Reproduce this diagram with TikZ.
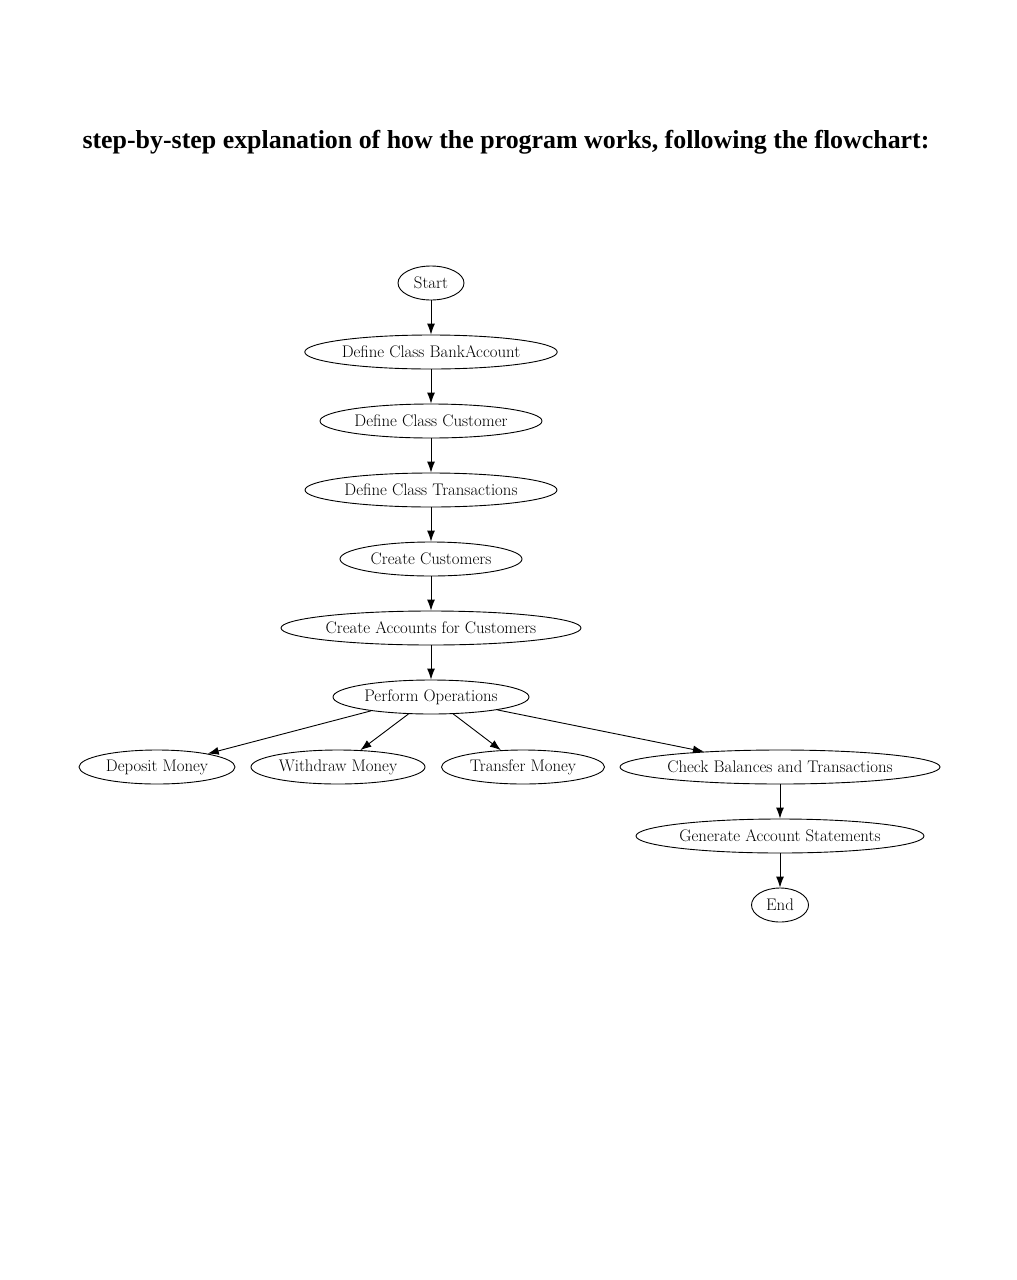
\documentclass[tikz,border=0pt]{standalone}
\usepackage{fontspec}
\newfontfamily\titlefont{Liberation Serif}
\usetikzlibrary{shapes.geometric,arrows.meta}
\begin{document}
\begin{tikzpicture}[x=1pt,y=-1pt,
  ov/.style={draw, ellipse, inner sep=0pt, minimum height=34pt, line width=0.9pt, font=\fontsize{16.8}{18}\selectfont},
  arr/.style={-{Latex[length=11pt,width=8pt]}, line width=0.9pt}]
\useasboundingbox (0,0) rectangle (1017,1280);
\node[font=\titlefont\bfseries\fontsize{25.9}{30}\selectfont, anchor=center] (title) at (506,142) {step-by-step explanation of how the program works, following the flowchart:};
\node[ov, minimum width=66pt] (start) at (431,283) {Start};
\node[ov, minimum width=252pt] (bank) at (431,352) {Define Class BankAccount};
\node[ov, minimum width=222pt] (cust) at (431,421) {Define Class Customer};
\node[ov, minimum width=252pt] (trans) at (431,490) {Define Class Transactions};
\node[ov, minimum width=182pt] (ccust) at (431,559) {Create Customers};
\node[ov, minimum width=300pt] (cacc) at (431,628) {Create Accounts for Customers};
\node[ov, minimum width=196pt] (perf) at (431,697) {Perform Operations};
\node[ov, minimum width=156pt] (dep) at (157,767) {Deposit Money};
\node[ov, minimum width=174pt] (wd) at (338,767) {Withdraw Money};
\node[ov, minimum width=163pt] (tr) at (523,767) {Transfer Money};
\node[ov, minimum width=320pt] (chk) at (780,767) {Check Balances and Transactions};
\node[ov, minimum width=288pt] (gen) at (780,836) {Generate Account Statements};
\node[ov, minimum width=57pt] (end) at (780,905) {End};
\draw[arr] (start) -- (bank);
\draw[arr] (bank) -- (cust);
\draw[arr] (cust) -- (trans);
\draw[arr] (trans) -- (ccust);
\draw[arr] (ccust) -- (cacc);
\draw[arr] (cacc) -- (perf);
\draw[arr] (perf.-167) -- (dep);
\draw[arr] (perf) -- (wd);
\draw[arr] (perf) -- (tr);
\draw[arr] (perf.-11) -- (chk);
\draw[arr] (chk) -- (gen);
\draw[arr] (gen) -- (end);
\end{tikzpicture}
\end{document}
